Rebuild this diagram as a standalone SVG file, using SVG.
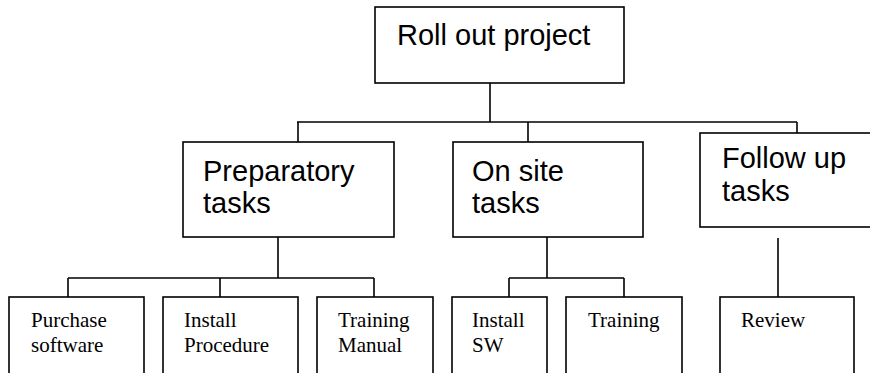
<svg xmlns="http://www.w3.org/2000/svg" width="870" height="373" viewBox="0 0 870 373">
  <style>
    .box { fill: #ffffff; stroke: #000000; stroke-width: 1.6; }
    .link { fill: none; stroke: #000000; stroke-width: 1.6; }
    .big { font-family: "Liberation Sans", Arial, sans-serif; font-size: 29px; fill: #000000; }
    .small { font-family: "Liberation Serif", "Times New Roman", serif; font-size: 21px; fill: #000000; }
  </style>

  <!-- connectors -->
  <g id="connectors">
    <path class="link" d="M490 83 V122"/>
    <path class="link" d="M297 122 H797"/>
    <path class="link" d="M298 122 V142"/>
    <path class="link" d="M528 122 V142"/>
    <path class="link" d="M797 122 V142"/>
    <path class="link" d="M278 237 V278 M68 278 H374 M68 278 V297 M220 278 V297 M374 278 V297"/>
    <path class="link" d="M547 237 V278 M509 278 H624 M509 278 V297 M624 278 V297"/>
    <path class="link" d="M778 238 V297"/>
  </g>

  <!-- root -->
  <g id="roll-out-project">
    <rect class="box" x="375" y="7" width="249" height="76"/>
    <text class="big" x="397" y="45">Roll out project</text>
  </g>

  <!-- second level -->
  <g id="preparatory-tasks">
    <rect class="box" x="183" y="142" width="211" height="95"/>
    <text class="big" x="203" y="181">Preparatory</text>
    <text class="big" x="203" y="213">tasks</text>
  </g>
  <g id="on-site-tasks">
    <rect class="box" x="453" y="142" width="190" height="95"/>
    <text class="big" x="472" y="181">On site</text>
    <text class="big" x="472" y="213">tasks</text>
  </g>
  <g id="follow-up-tasks">
    <rect class="box" x="700" y="133" width="180" height="94"/>
    <text class="big" x="722" y="168">Follow up</text>
    <text class="big" x="722" y="201">tasks</text>
  </g>

  <!-- third level -->
  <g id="purchase-software">
    <rect class="box" x="9" y="297" width="135" height="90"/>
    <text class="small" x="31" y="327">Purchase</text>
    <text class="small" x="31" y="352">software</text>
  </g>
  <g id="install-procedure">
    <rect class="box" x="163" y="297" width="135" height="90"/>
    <text class="small" x="184" y="327">Install</text>
    <text class="small" x="184" y="352">Procedure</text>
  </g>
  <g id="training-manual">
    <rect class="box" x="317" y="297" width="116" height="90"/>
    <text class="small" x="338" y="327">Training</text>
    <text class="small" x="338" y="352">Manual</text>
  </g>
  <g id="install-sw">
    <rect class="box" x="452" y="297" width="95" height="90"/>
    <text class="small" x="472" y="327">Install</text>
    <text class="small" x="472" y="352">SW</text>
  </g>
  <g id="training">
    <rect class="box" x="566" y="297" width="116" height="90"/>
    <text class="small" x="588" y="327">Training</text>
  </g>
  <g id="review">
    <rect class="box" x="720" y="297" width="134" height="90"/>
    <text class="small" x="741" y="327">Review</text>
  </g>
</svg>
